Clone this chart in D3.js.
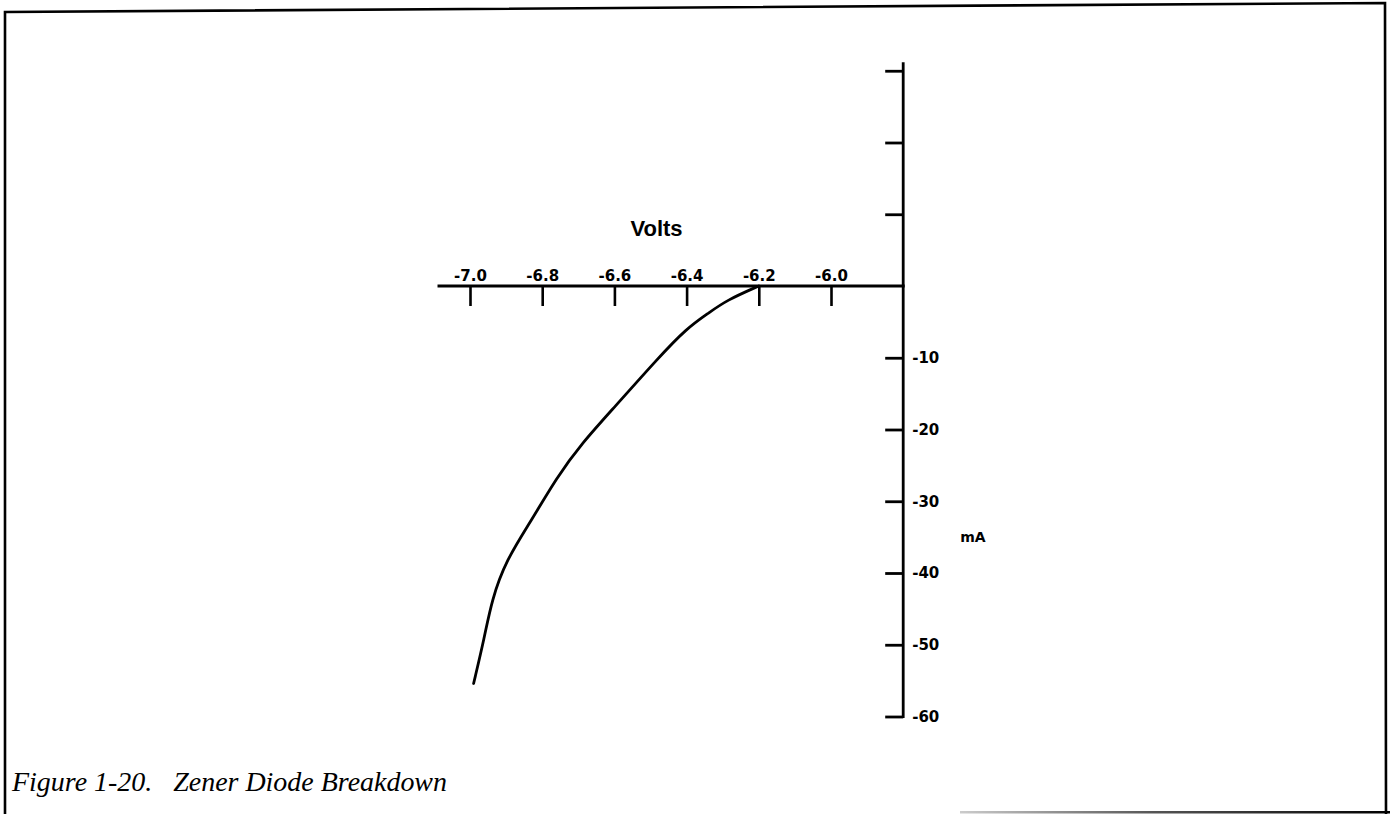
<!DOCTYPE html>
<html>
<head>
<meta charset="utf-8">
<script src="https://cdn.jsdelivr.net/npm/d3@7"></script>
<style>
  html, body { margin: 0; padding: 0; background: #fff; }
  svg { display: block; }
  .lbl { font-family: "DejaVu Sans", "Liberation Sans", sans-serif; font-weight: bold; fill: #000; }
  .ttl { font-family: "Liberation Sans", Arial, sans-serif; font-weight: bold; fill: #000; }
  .cap { font-family: "Liberation Serif", "Times New Roman", serif; font-style: italic; fill: #000; }
</style>
</head>
<body>
<svg id="chart" width="1390" height="814"></svg>
<script>
// Zener breakdown curve: reverse voltage (V) against reverse current (mA)
const volts   = [-6.20, -6.29, -6.34, -6.40, -6.48, -6.60, -6.69, -6.76, -6.83, -6.90, -6.94, -6.96, -6.99];
const current = [0, -2.0, -3.8, -5.9, -10.1, -16.9, -21.9, -26.7, -32.7, -38.2, -43.8, -49.0, -55.4];

// Axis ticks
const voltTicks = [-7.0, -6.8, -6.6, -6.4, -6.2, -6.0];
const voltTickLabels = ["-7.0", "-6.8", "-6.6", "-6.4", "-6.2", "-6.0"];
const mATicks = [30, 20, 10, -10, -20, -30, -40, -50, -60];
const mATickLabels = ["", "", "", "-10", "-20", "-30", "-40", "-50", "-60"];

const xTitle = "Volts";
const yTitle = "mA";
const caption = "Figure 1-20.\u2002 Zener Diode Breakdown";

const svg = d3.select("#chart");

// Scales: the current axis crosses the voltage axis at -5.8 V
const x = d3.scaleLinear().domain([-7.0, -6.0]).range([470, 831]);
const y = d3.scaleLinear().domain([0, -60]).range([286, 716.5]);
const xCross = -5.8;

// Page frame
const frame = svg.append("g").attr("fill", "none").attr("stroke", "#000").attr("stroke-width", 2.6);
frame.append("path").attr("d", "M5,814 L5,12 L1385,3 L1386,814");
const grad = svg.append("defs").append("linearGradient").attr("id", "fade");
grad.append("stop").attr("offset", "0%").attr("stop-color", "#ccc");
grad.append("stop").attr("offset", "45%").attr("stop-color", "#555");
grad.append("stop").attr("offset", "100%").attr("stop-color", "#000");
svg.append("rect").attr("x", 960).attr("y", 811).attr("width", 430).attr("height", 2.5).attr("fill", "url(#fade)");

// Voltage axis: labels above, ticks hanging below
const xAxis = d3.axisTop(x)
  .tickValues(voltTicks)
  .tickFormat((d, i) => voltTickLabels[i])
  .tickSizeInner(-20)
  .tickSizeOuter(0)
  .tickPadding(5);
const gx = svg.append("g").attr("transform", `translate(0,${y(0)})`).call(xAxis);
gx.select(".domain").remove();
gx.selectAll(".tick line").attr("stroke", "#000").attr("stroke-width", 2.6);
gx.selectAll(".tick text").attr("class", "lbl").style("font-size", "15px");
svg.append("line")
  .attr("x1", x(-7.09)).attr("x2", x(xCross) + 1.5)
  .attr("y1", y(0)).attr("y2", y(0))
  .attr("stroke", "#000").attr("stroke-width", 2.8);

// Current axis: ticks pointing left, labels to the right
const yAxis = d3.axisRight(y)
  .tickValues(mATicks)
  .tickFormat((d, i) => mATickLabels[i])
  .tickSizeInner(-18)
  .tickSizeOuter(0)
  .tickPadding(9);
const gy = svg.append("g").attr("transform", `translate(${x(xCross)},0)`).call(yAxis);
gy.select(".domain").remove();
gy.selectAll(".tick line").attr("stroke", "#000").attr("stroke-width", 2.8);
gy.selectAll(".tick text").attr("class", "lbl").style("font-size", "15px");
svg.append("line")
  .attr("x1", x(xCross)).attr("x2", x(xCross))
  .attr("y1", y(31.2)).attr("y2", y(-60) + 1.4)
  .attr("stroke", "#000").attr("stroke-width", 2.8);

// Axis titles
svg.append("text").attr("class", "ttl")
  .attr("x", (x(-6.6) + x(-6.4)) / 2 + 6).attr("y", y(0) - 50)
  .attr("text-anchor", "middle").style("font-size", "22px").text(xTitle);
svg.append("text").attr("class", "lbl")
  .attr("x", x(xCross) + 57).attr("y", (y(-30) + y(-40)) / 2 + 5)
  .style("font-size", "14px").text(yTitle);

// Breakdown curve
const pts = volts.map((v, i) => [x(v), y(current[i])]);
svg.append("path")
  .attr("d", d3.line().curve(d3.curveBasis)(pts))
  .attr("fill", "none").attr("stroke", "#000").attr("stroke-width", 2.8)
  .attr("stroke-linecap", "round");

// Caption
svg.append("text").attr("class", "cap")
  .attr("x", 12).attr("y", 791)
  .attr("textLength", 435).attr("lengthAdjust", "spacingAndGlyphs")
  .style("font-size", "27px").text(caption);
</script>
</body>
</html>
